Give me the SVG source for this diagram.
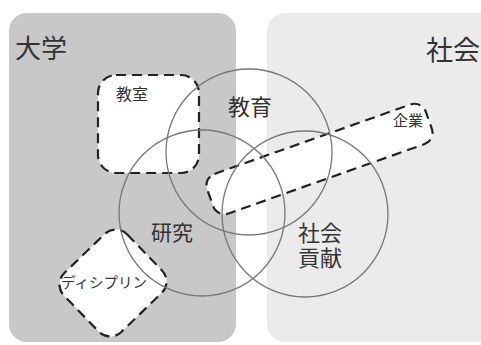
<svg xmlns="http://www.w3.org/2000/svg" width="481" height="345" viewBox="0 0 481 345">
  <defs>
    <style>
      .t { font-family: "Noto Sans CJK JP", "Noto Sans", sans-serif; fill: #333; }
      .dash { fill: #fff; stroke: #222; stroke-width: 2.2; stroke-dasharray: 10 6; }
      .ring { fill: none; stroke: #777; stroke-width: 1.3; }
    </style>
  </defs>

  <g id="daigaku">
    <rect x="9" y="13" width="227" height="329" rx="18" fill="#c8c8c8"/>
    <text class="t" x="15" y="58" font-size="26">大学</text>
  </g>
  <g id="shakai">
    <rect x="267" y="13" width="230" height="329" rx="18" fill="#ebebeb"/>
    <text class="t" x="480" y="60" font-size="27" text-anchor="end">社会</text>
  </g>

  <g id="kyoushitsu">
    <rect class="dash" x="98" y="75" width="101" height="98" rx="18"/>
    <text class="t" x="116" y="100" font-size="16">教室</text>
  </g>
  <g id="discipline">
    <rect class="dash" x="72" y="239" width="82" height="88" rx="16" transform="rotate(46 113 283)"/>
    <text class="t" x="104" y="288" font-size="14.5" text-anchor="middle">ディシプリン</text>
  </g>
  <g id="kigyou">
    <rect class="dash" x="203.5" y="138" width="232" height="42" rx="12" transform="rotate(-19.5 319.5 159)"/>
    <text class="t" x="408" y="126" font-size="15" text-anchor="middle">企業</text>
  </g>

  <g id="kyouiku">
    <circle class="ring" cx="249" cy="152" r="83"/>
    <text class="t" x="250" y="115" font-size="22" text-anchor="middle">教育</text>
  </g>
  <g id="kenkyuu">
    <circle class="ring" cx="202" cy="213" r="83"/>
    <text class="t" x="172" y="240" font-size="21" text-anchor="middle">研究</text>
  </g>
  <g id="shakaikouken">
    <circle class="ring" cx="305" cy="214" r="83"/>
    <text class="t" font-size="22" text-anchor="middle"><tspan x="320" y="241">社会</tspan><tspan x="320" dy="25">貢献</tspan></text>
  </g>

  <g id="connectors"/>
</svg>
